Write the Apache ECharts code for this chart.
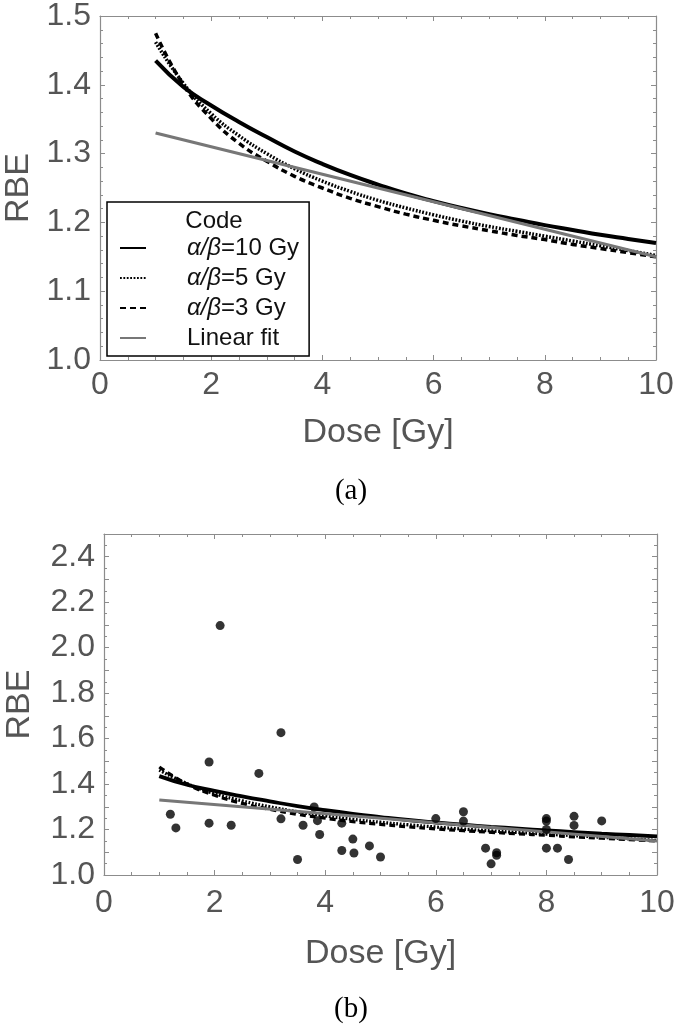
<!DOCTYPE html>
<html>
<head>
<meta charset="utf-8">
<script src="https://cdn.jsdelivr.net/npm/echarts@6/dist/echarts.min.js"></script>
<style>html,body{margin:0;padding:0;background:#fff}#c{width:677px;height:1032px}</style>
</head>
<body>
<div id="c"></div>
<script>
// ---- data ----
const doses = [1, 1.5, 2, 2.5, 3, 3.5, 4, 4.5, 5, 5.5, 6, 6.5, 7, 7.5, 8, 8.5, 9, 9.5, 10];
const rbeAB10 = [1.435, 1.397, 1.370, 1.346, 1.324, 1.303, 1.285, 1.269, 1.255, 1.242, 1.231, 1.221, 1.212, 1.204, 1.196, 1.189, 1.182, 1.176, 1.170];
const rbeAB5  = [1.462, 1.402, 1.358, 1.326, 1.300, 1.278, 1.260, 1.245, 1.232, 1.221, 1.211, 1.202, 1.194, 1.187, 1.180, 1.173, 1.166, 1.159, 1.152];
const rbeAB3  = [1.475, 1.400, 1.351, 1.315, 1.289, 1.267, 1.250, 1.235, 1.223, 1.212, 1.203, 1.195, 1.188, 1.181, 1.175, 1.168, 1.162, 1.156, 1.150];
const fitDose = [1, 10];
const fitRBE  = [1.330, 1.150];
const expDose = [1.2, 1.3, 2.1, 1.9, 1.9, 2.3, 2.8, 3.2, 3.2, 3.5, 3.6, 3.8, 3.86, 3.9, 4.3, 4.3, 4.5, 4.52, 4.8, 5.0, 6.0, 6.5, 6.5, 6.9, 7.0, 7.1, 7.1, 8.0, 8.0, 8.0, 8.0, 8.2, 8.4, 8.5, 8.5, 9.0];
const expRBE  = [1.267, 1.207, 2.097, 1.497, 1.228, 1.219, 1.447, 1.626, 1.247, 1.068, 1.219, 1.299, 1.239, 1.178, 1.228, 1.108, 1.158, 1.097, 1.128, 1.079, 1.248, 1.278, 1.237, 1.118, 1.049, 1.098, 1.087, 1.248, 1.237, 1.200, 1.118, 1.118, 1.068, 1.258, 1.218, 1.238];
const seriesNames = ['α/β=10 Gy', 'α/β=5 Gy', 'α/β=3 Gy', 'Linear fit'];
const xTickLabels = ['0', '2', '4', '6', '8', '10'];
const legendTitle = 'Code';
const panelLabels = ['(a)', '(b)'];

// ---- styling ----
const FONT = 'Liberation Sans';
const frameColor = '#8c8c8c';
const labelColor = '#555555';

function pairs(xs, ys) { return xs.map((x, i) => [x, ys[i]]); }

function xAxes(gridIndex) {
  const base = {
    type: 'value', gridIndex: gridIndex, min: 0, max: 10, interval: 2,
    axisLine: { show: true, onZero: false, lineStyle: { color: frameColor, width: 1.2 } },
    axisTick: { show: true, inside: true, length: 5, lineStyle: { color: frameColor } },
    minorTick: { show: true, splitNumber: 4, length: 3, lineStyle: { color: frameColor } },
    splitLine: { show: false }, minorSplitLine: { show: false }
  };
  return [
    Object.assign({}, base, {
      position: 'bottom',
      name: 'Dose [Gy]', nameLocation: 'middle', nameGap: gridIndex === 0 ? 56 : 62,
      nameTextStyle: { fontFamily: FONT, fontSize: 34, color: labelColor },
      axisLabel: { show: true, fontFamily: FONT, fontSize: 32, color: labelColor, margin: gridIndex === 0 ? 9 : 12,
        formatter: v => { const s = String(Math.round(v)); return xTickLabels.indexOf(s) >= 0 ? s : ''; } }
    }),
    Object.assign({}, base, { position: 'top', axisLabel: { show: false } })
  ];
}

function yAxes(gridIndex, min, max, interval, minorSplit, labelEvery, gap) {
  const base = {
    type: 'value', gridIndex: gridIndex, min: min, max: max, interval: interval,
    axisLine: { show: true, onZero: false, lineStyle: { color: frameColor, width: 1.2 } },
    axisTick: { show: true, inside: true, length: 5, lineStyle: { color: frameColor } },
    minorTick: { show: true, splitNumber: minorSplit, length: 3, lineStyle: { color: frameColor } },
    splitLine: { show: false }, minorSplitLine: { show: false }
  };
  return [
    Object.assign({}, base, {
      position: 'left',
      name: 'RBE', nameLocation: 'middle', nameGap: gap,
      nameTextStyle: { fontFamily: FONT, fontSize: 34, color: labelColor },
      axisLabel: { show: true, fontFamily: FONT, fontSize: 32, color: labelColor, margin: 9,
        formatter: v => { const k = Math.round(v * 10); return (k % labelEvery === 0) ? (k / 10).toFixed(1) : ''; } }
    }),
    Object.assign({}, base, { position: 'right', axisLabel: { show: false } })
  ];
}

function curveSeries(xi, yi, lw) {
  return [
    { name: seriesNames[0], type: 'line', xAxisIndex: xi, yAxisIndex: yi, data: pairs(doses, rbeAB10), smooth: true, symbol: 'none',
      lineStyle: { color: '#000', width: lw + 0.5, type: 'solid' }, itemStyle: { color: '#000' }, z: 3 },
    { name: seriesNames[1], type: 'line', xAxisIndex: xi, yAxisIndex: yi, data: pairs(doses, rbeAB5), smooth: true, symbol: 'none',
      lineStyle: { color: '#000', width: lw, type: [1.8, 1.6] }, itemStyle: { color: '#000' }, z: 3 },
    { name: seriesNames[2], type: 'line', xAxisIndex: xi, yAxisIndex: yi, data: pairs(doses, rbeAB3), smooth: true, symbol: 'none',
      lineStyle: { color: '#000', width: lw, type: [6, 4] }, itemStyle: { color: '#000' }, z: 3 },
    { name: seriesNames[3], type: 'line', xAxisIndex: xi, yAxisIndex: yi, data: pairs(fitDose, fitRBE), symbol: 'none',
      lineStyle: { color: '#777', width: lw - 0.3, type: 'solid' }, itemStyle: { color: '#777' }, z: 4 }
  ];
}

const chart = echarts.init(document.getElementById('c'), null, { renderer: 'canvas' });
const option = {
  animation: false,
  backgroundColor: '#fff',
  title: [
    { text: legendTitle, left: 209, top: 204, textAlign: 'center', z: 20,
      textStyle: { fontFamily: FONT, fontSize: 24, fontWeight: 'normal', color: '#111' } },
    { text: panelLabels[0], left: 346, top: 472, textAlign: 'center',
      textStyle: { fontFamily: 'Liberation Serif', fontSize: 29, fontWeight: 'normal', color: '#000' } },
    { text: panelLabels[1], left: 346, top: 990, textAlign: 'center',
      textStyle: { fontFamily: 'Liberation Serif', fontSize: 29, fontWeight: 'normal', color: '#000' } }
  ],
  legend: {
    data: seriesNames,
    orient: 'vertical',
    left: 107, top: 202,
    padding: [34, 10, 6, 12],
    itemGap: 6,
    itemWidth: 26, itemHeight: 14,
    borderColor: '#000', borderWidth: 1.5,
    backgroundColor: '#fff',
    selectedMode: false,
    z: 10,
    itemStyle: { opacity: 0 },
    textStyle: {
      fontFamily: FONT, fontSize: 24, color: '#111', padding: [0, 0, 0, 36],
      rich: {
        i: { fontFamily: FONT, fontSize: 24, fontStyle: 'italic', color: '#111' },
        n: { fontFamily: FONT, fontSize: 24, color: '#111' }
      }
    },
    formatter: name => name.indexOf('α/β') === 0 ? '{i|α/β}{n|' + name.slice(3) + '}' : name
  },
  grid: [
    { left: 100, right: 21, top: 16, height: 344, containLabel: false, outerBoundsMode: 'none' },
    { left: 104, right: 20, top: 534, height: 341, containLabel: false, outerBoundsMode: 'none' }
  ],
  xAxis: [].concat(xAxes(0), xAxes(1)),
  yAxis: [].concat(yAxes(0, 1.0, 1.5, 0.1, 5, 1, 63), yAxes(1, 1.0, 2.5, 0.1, 2, 2, 67)),
  series: [].concat(
    curveSeries(0, 0, 3.5),
    curveSeries(2, 2, 3.3),
    [{ name: 'Experimental', type: 'scatter', xAxisIndex: 2, yAxisIndex: 2, data: pairs(expDose, expRBE),
       symbol: 'circle', symbolSize: 9, itemStyle: { color: '#000' }, z: 5 }]
  )
};
chart.setOption(option);
</script>
</body>
</html>
